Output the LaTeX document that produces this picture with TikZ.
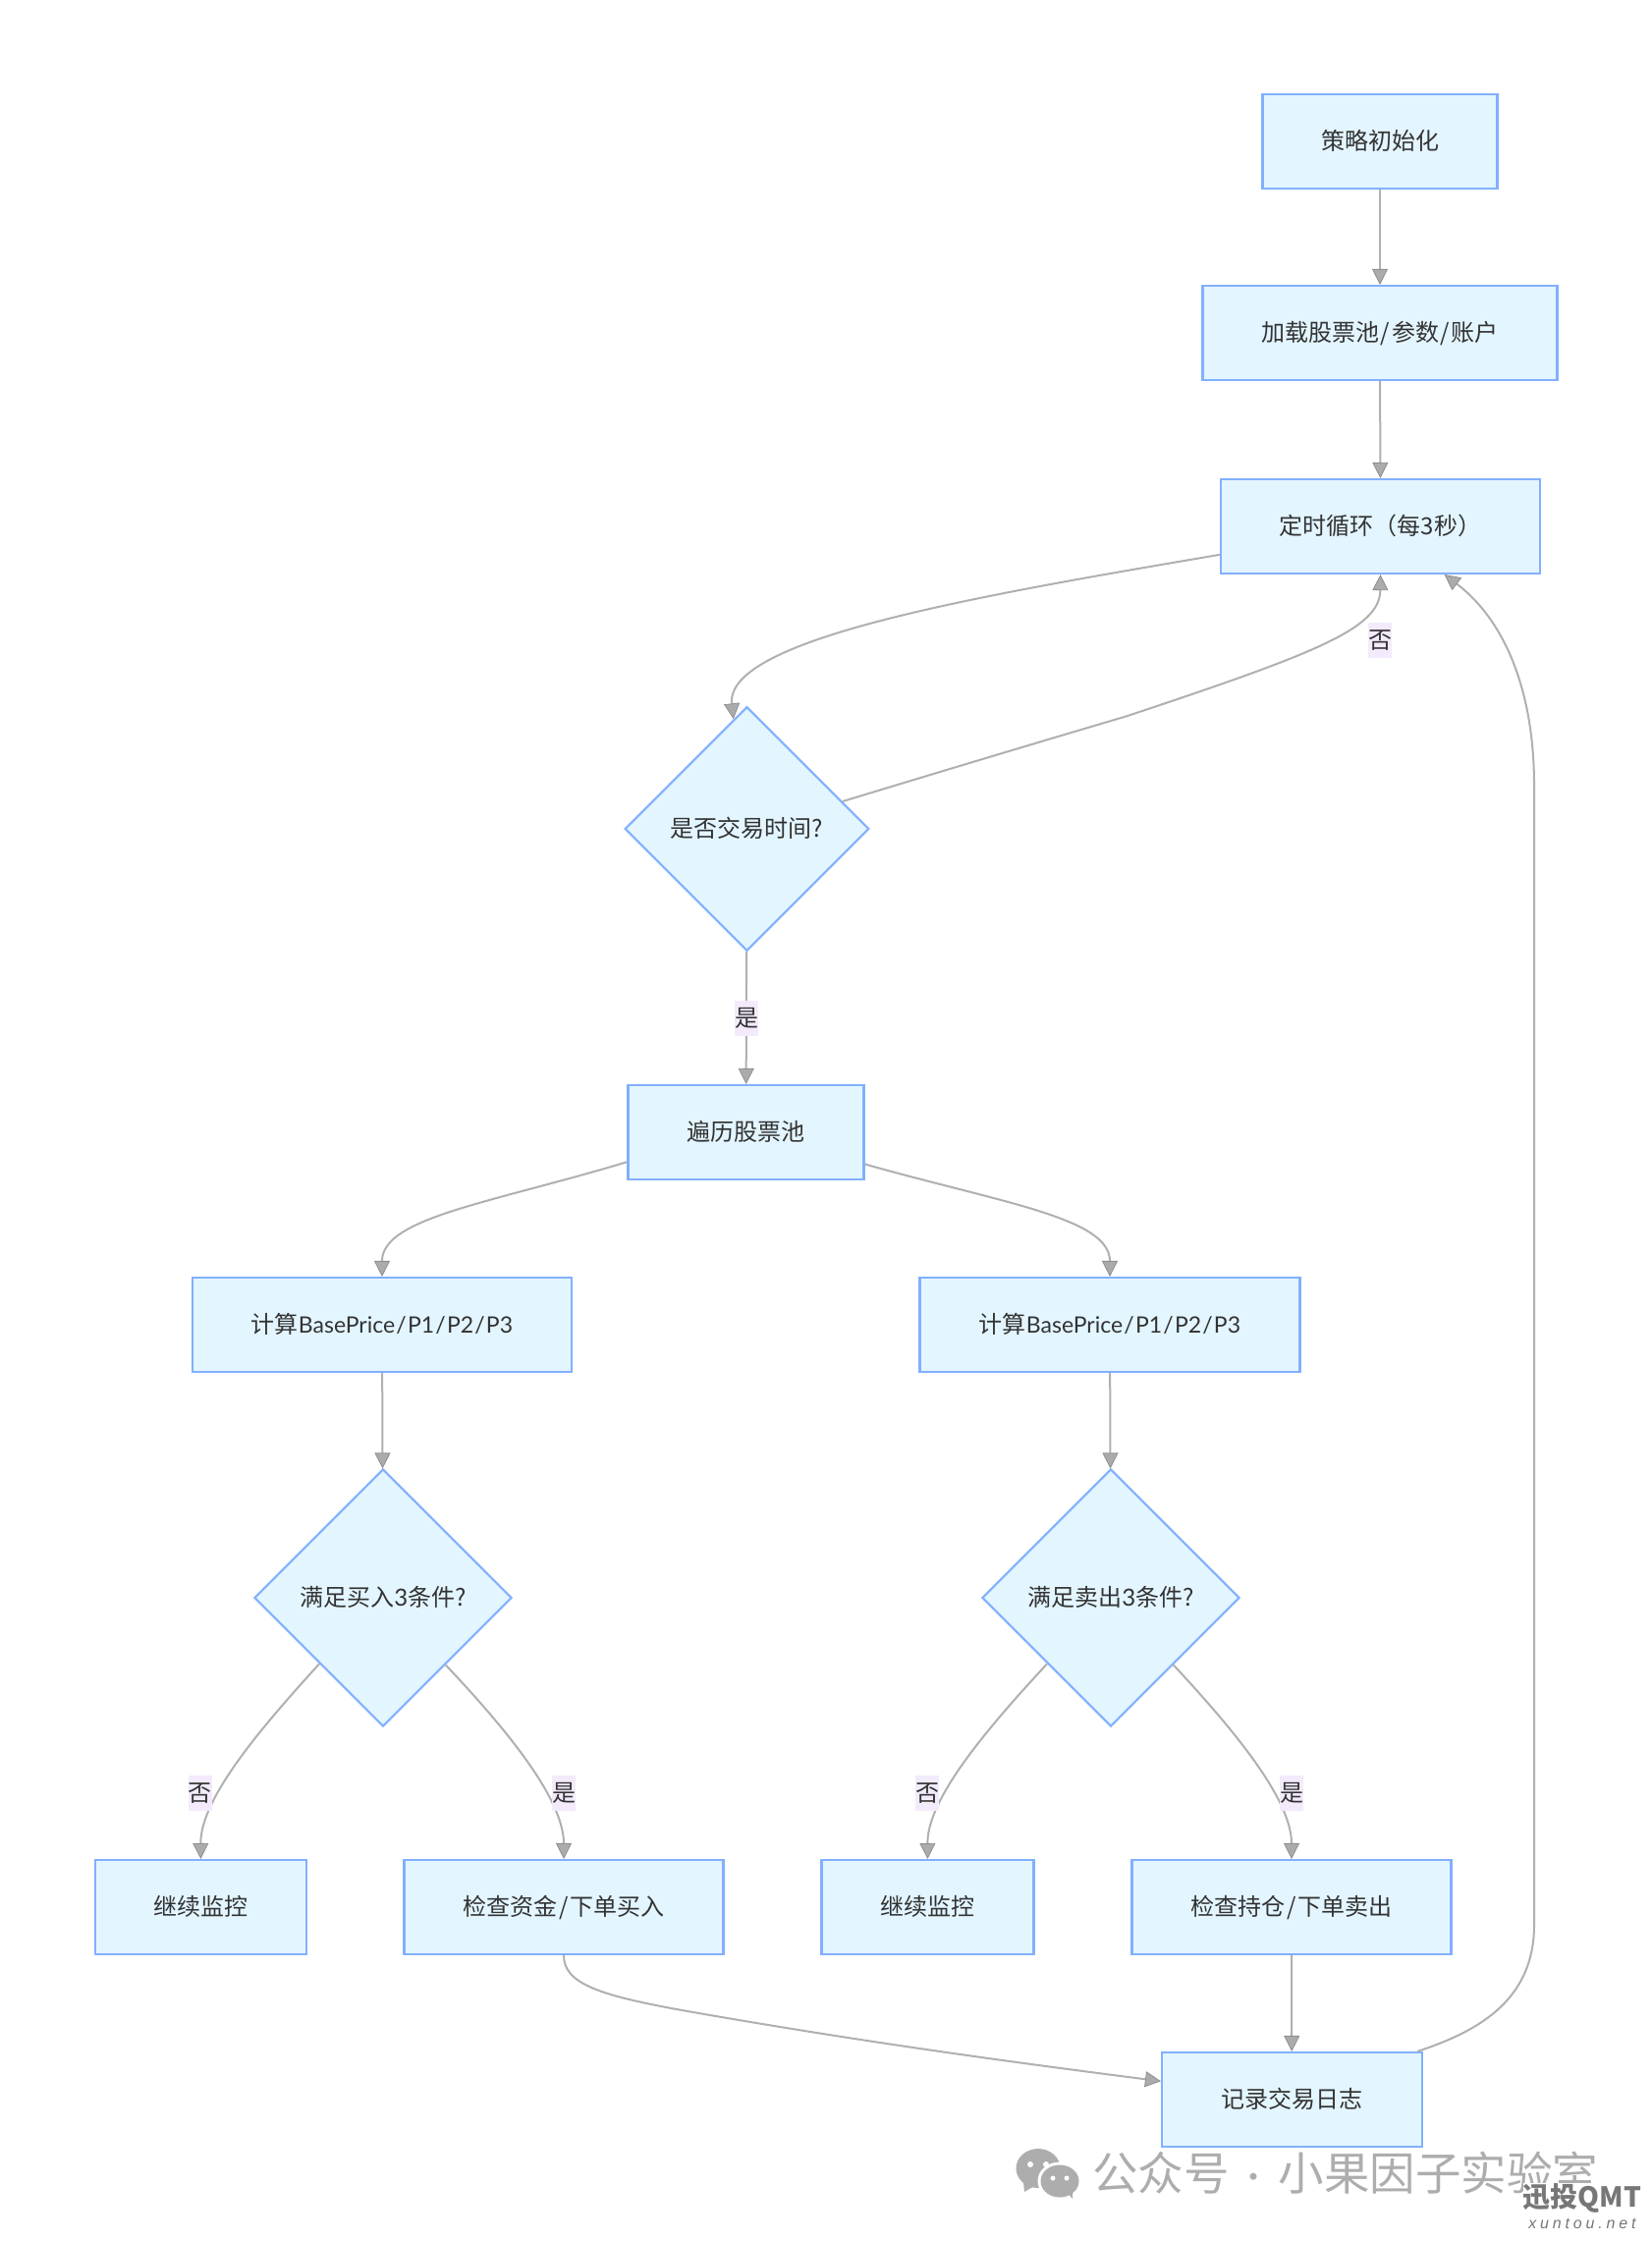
\documentclass[tikz,border=0pt]{standalone}
\usepackage{fontspec}
\setmainfont{Noto Sans CJK SC}
\newfontfamily\latfont{Lato}
\newfontfamily\xtfont[LetterSpace=24]{Liberation Sans}
\newcommand{\wsl}{\kern1.7pt/\kern1.7pt}
\newcommand{\lsl}{\kern1.2pt/\kern1.2pt}
\newcommand{\bp}{{\fontsize{23}{28}\latfont BasePrice\lsl P1\lsl P2\lsl P3}}
\usetikzlibrary{shapes.geometric,arrows.meta}
\definecolor{boxfill}{HTML}{E3F5FF}
\definecolor{boxline}{HTML}{82B0FF}
\definecolor{edgeline}{HTML}{B0B0B0}
\definecolor{tipline}{HTML}{8F8F8F}
\definecolor{tipfill}{HTML}{ABABAB}
\definecolor{labelbg}{HTML}{F3EBFC}
\definecolor{textc}{HTML}{333333}
\definecolor{wmgrey}{HTML}{ADADAD}
\definecolor{wmdark}{HTML}{777777}
\tikzset{
  boxnode/.style={draw=boxline,fill=boxfill,line width=2.1pt,rectangle,inner sep=0pt,minimum height=96pt,text=textc,text height=21pt,text depth=3.5pt,font=\fontsize{24}{28}\selectfont},
  decide/.style={draw=boxline,fill=boxfill,line width=2.1pt,diamond,aspect=1,inner sep=0pt,text=textc,text height=21pt,text depth=3.5pt,font=\fontsize{24}{28}\selectfont},
  conn/.style={draw=edgeline,line width=2pt,-{Triangle[length=16pt,width=16pt,fill=tipfill,color=tipline,line width=.8pt]}},
  edgelabel/.style={fill=labelbg,text=textc,inner sep=0pt,minimum width=24pt,minimum height=36pt,font=\fontsize{24}{28}\selectfont},
}
\begin{document}
\begin{tikzpicture}[x=1pt,y=-1pt]
\useasboundingbox (0,0) rectangle (1681,2282);
\fill[white] (0,0) rectangle (1681,2282);
% nodes
\node[boxnode,minimum width=239pt] (A) at (1405,144) {策略初始化};
\node[boxnode,minimum width=361pt] (B) at (1405,339) {加载股票池\wsl 参数\wsl 账户};
\node[boxnode,minimum width=325pt] (C) at (1405.5,536) {定时循环（每3秒）};
\node[decide,minimum width=248.7pt,minimum height=248.7pt] (D) at (760.5,844) {是否交易时间?};
\node[boxnode,minimum width=240pt] (E) at (759.5,1153) {遍历股票池};
\node[boxnode,minimum width=386.5pt] (F) at (389,1349) {计算\bp};
\node[boxnode,minimum width=387pt] (G) at (1130,1349) {计算\bp};
\node[decide,minimum width=262pt,minimum height=262pt] (H) at (390,1627) {满足买入{\latfont 3}条件?};
\node[decide,minimum width=262pt,minimum height=262pt] (I) at (1131,1627) {满足卖出{\latfont 3}条件?};
\node[boxnode,minimum width=215.5pt] (J) at (204.4,1942) {继续监控};
\node[boxnode,minimum width=325pt] (K) at (574,1942) {检查资金\wsl 下单买入};
\node[boxnode,minimum width=216pt] (L) at (944.5,1942) {继续监控};
\node[boxnode,minimum width=325pt] (M) at (1315,1942) {检查持仓\wsl 下单卖出};
\node[boxnode,minimum width=264.6pt] (N) at (1315.3,2138) {记录交易日志};
% connectors
\draw[conn] (A) -- (B);
\draw[conn] (B) -- (C);
\draw[conn] (C.190) .. controls (1000,606) and (738,650) .. (D.97);
\draw[conn] (D.16) .. controls (950,788) and (1050,758) .. (1148,729) .. controls (1340,665) and (1405,640) .. (C.south);
\draw[conn] (D) -- (E);
\draw[conn] (E.194.9) .. controls (500,1225) and (389,1240) .. (F.north);
\draw[conn] (E.345.1) .. controls (1020,1225) and (1130,1240) .. (G.north);
\draw[conn] (F) -- (H);
\draw[conn] (G) -- (I);
\draw[conn] (H.226.7) .. controls (270,1755) and (204,1830) .. (J.north);
\draw[conn] (H.313.3) .. controls (510,1755) and (574,1830) .. (K.north);
\draw[conn] (I.226.7) .. controls (1010,1755) and (944,1830) .. (L.north);
\draw[conn] (I.313.3) .. controls (1250,1755) and (1315,1830) .. (M.north);
\draw[conn] (K.south) .. controls (574,2020) and (610,2032) .. (700,2048) .. controls (860,2076) and (1000,2096) .. (N.172.3);
\draw[conn] (M) -- (N);
\draw[conn] (N.21.3) .. controls (1500,2070) and (1562,2040) .. (1562,1960) -- (1562,800) .. controls (1562,700) and (1530,630) .. (C.323.6);
% edge labels
\node[edgelabel] (l1) at (1405,652) {否};
\node[edgelabel] (l2) at (760,1037) {是};
\node[edgelabel] (l3) at (203.5,1826) {否};
\node[edgelabel] (l4) at (574,1826) {是};
\node[edgelabel] (l5) at (944,1826) {否};
\node[edgelabel] (l6) at (1315,1826) {是};
% watermark
\fill[wmgrey] (1057,2208) ellipse [x radius=22.5pt,y radius=20pt];
\fill[wmgrey] (1042,2222) -- (1043,2232) -- (1053,2226) -- cycle;
\fill[white] (1079,2221) ellipse [x radius=22.5pt,y radius=19.5pt];
\fill[wmgrey] (1079,2221) ellipse [x radius=19.5pt,y radius=16.5pt];
\fill[wmgrey] (1086,2232) -- (1092,2239) -- (1092,2230) -- cycle;
\fill[white] (1049,2204) circle (3pt) (1065,2204) circle (3pt) (1072,2218) circle (2.5pt) (1086,2218) circle (2.5pt);
\node[text=wmgrey,inner sep=0pt,anchor=west,font=\fontsize{46.5}{50}\selectfont] (w1) at (1112,2213) {公众号\kern19pt{\latfont ·}\kern19pt 小果因子实验室};
\node[text=wmdark,fill=white,inner sep=0pt,font=\bfseries\fontsize{28}{30}\selectfont] (w2) at (1611,2238) {迅投QMT};
\node[text=wmdark,inner sep=0pt,font=\itshape\fontsize{16}{18}\selectfont] (w3) at (1611,2264) {\xtfont\itshape xuntou.net};
\end{tikzpicture}
\end{document}
